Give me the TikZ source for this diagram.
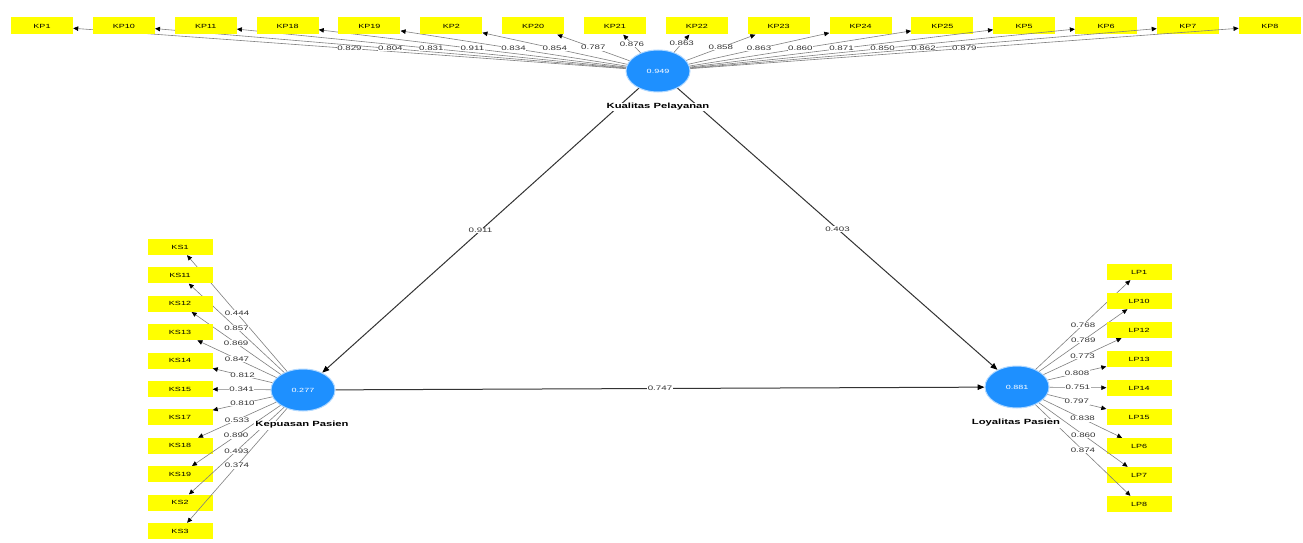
\documentclass[tikz,border=0pt]{standalone}
\usepackage{fontspec}
\setmainfont{Liberation Sans}
\newfontfamily\wfont[FakeStretch=1.5]{Liberation Sans}
\usetikzlibrary{arrows.meta,shapes.geometric}
\definecolor{yellowbox}{RGB}{255,255,0}
\definecolor{lvblue}{RGB}{30,144,255}
\begin{document}
\begin{tikzpicture}[x=1pt,y=-1pt,
  ind/.style={fill=yellowbox, draw=none, minimum width=62pt, minimum height=17pt, inner sep=0pt, font=\wfont\fontsize{6}{7}\selectfont},
  indb/.style={ind, minimum width=65pt, minimum height=16pt},
  lv/.style={ellipse, fill=lvblue, draw=lvblue!35, line width=1pt, minimum width=64pt, minimum height=42pt, inner sep=0pt, text=white, font=\wfont\fontsize{6}{7}\selectfont},
  lvname/.style={font=\wfont\fontsize{7.5}{9}\selectfont\bfseries, inner sep=1pt, fill=white},
  load/.style={draw=black!50, line width=0.6pt, -{Triangle[length=5pt,width=4.5pt,color=black]}},
  pathc/.style={draw=black!80, line width=1pt, -{Triangle[length=7pt,width=5.5pt,color=black]}},
  lab/.style={fill=white, inner sep=0.6pt, font=\wfont\fontsize{6.5}{7}\selectfont, text=black!80}]
\useasboundingbox[fill=white] (0,0) rectangle (1303,543);

% latent variables
\node[lv] (kp) at (658,71) {0.949};
\node[lv] (ks) at (303,390) {0.277};
\node[lv] (lp) at (1017,387) {0.881};

% structural paths
\draw[pathc] (kp) -- (ks) node[lab,midway] {0.911};
\draw[pathc] (kp) -- (lp) node[lab,midway] {0.403};
\draw[pathc] (ks) -- (lp) node[lab,midway] {0.747};

% top indicators
\foreach \n/\v [count=\i from 0] in {KP1/0.829,KP10/0.804,KP11/0.831,KP18/0.911,KP19/0.834,KP2/0.854,KP20/0.787,KP21/0.876,KP22/0.863,KP23/0.858,KP24/0.863,KP25/0.860,KP5/0.871,KP6/0.850,KP7/0.862,KP8/0.879}{
  \node[ind] (t\i) at ({42+81.85*\i},26) {\n};
  \draw[load] (kp) -- (t\i) node[lab,midway] {\v};
}

% left indicators
\foreach \n/\v [count=\i from 0] in {KS1/0.444,KS11/0.857,KS12/0.869,KS13/0.847,KS14/0.812,KS15/0.341,KS17/0.810,KS18/0.533,KS19/0.890,KS2/0.493,KS3/0.374}{
  \node[indb] (l\i) at (180,{247+28.4*\i}) {\n};
  \draw[load] (ks) -- (l\i) node[lab,midway] {\v};
}

% right indicators
\foreach \n/\v [count=\i from 0] in {LP1/0.768,LP10/0.789,LP12/0.773,LP13/0.808,LP14/0.751,LP15/0.797,LP6/0.838,LP7/0.860,LP8/0.874}{
  \node[indb] (r\i) at (1139,{272+29*\i}) {\n};
  \draw[load] (lp) -- (r\i) node[lab,midway] {\v};
}

% names (drawn over the lines)
\node[lvname] (kpn) at (658,107) {Kualitas Pelayanan};
\node[lvname] (ksn) at (302,425) {Kepuasan Pasien};
\node[lvname] (lpn) at (1016,423) {Loyalitas Pasien};
\end{tikzpicture}
\end{document}
